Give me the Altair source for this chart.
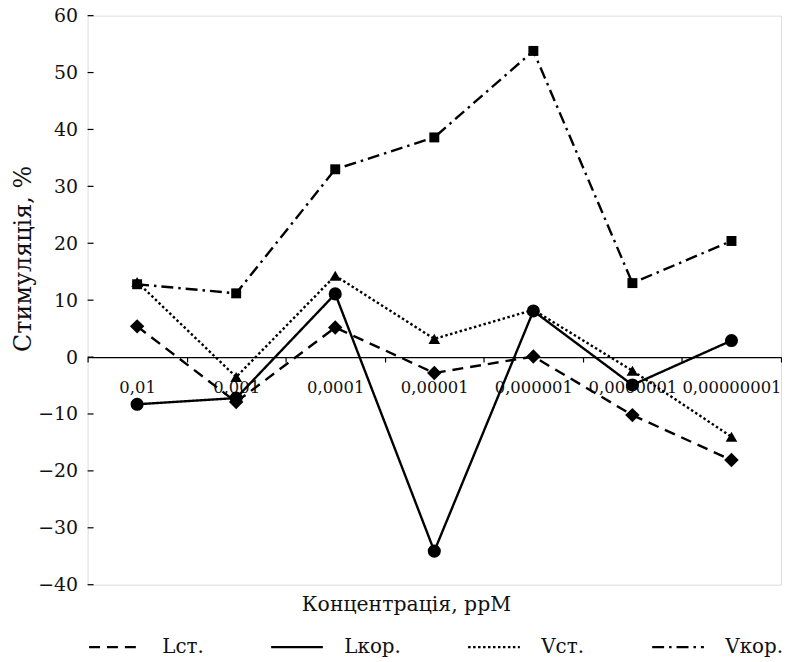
import altair as alt
import pandas as pd

conc = ["0,01", "0,001", "0,0001", "0,00001", "0,000001", "0,0000001", "0,00000001"]
series_names = ["Lст.", "Lкор.", "Vст.", "Vкор."]
l_st = [5.4, -7.9, 5.2, -2.8, 0.1, -10.2, -18.1]
l_kor = [-8.3, -7.2, 11.1, -34.1, 8.1, -4.9, 2.9]
v_st = [13.2, -3.5, 14.3, 3.2, 8.3, -2.4, -14.0]
v_kor = [12.8, 11.2, 33.0, 38.6, 53.8, 13.0, 20.4]
y_ticks = [-40, -30, -20, -10, 0, 10, 20, 30, 40, 50, 60]

rows = []
for name, vals in zip(series_names, [l_st, l_kor, v_st, v_kor]):
    for c, v in zip(conc, vals):
        rows.append({"conc": c, "series": name, "marker": name + " ", "value": v})
df = pd.DataFrame(rows)
marker_names = [s + " " for s in series_names]

FONT = "DejaVu Serif"
W, H = 697, 572

x_enc = alt.X(
    "conc:N",
    sort=conc,
    scale=alt.Scale(type="band", paddingInner=0, paddingOuter=0),
    axis=alt.Axis(
        title="Концентрація, ppM",
        offset=-H * 0.4,
        domain=True, domainColor="black", domainWidth=1.3,
        ticks=True, tickBand="extent", tickSize=5, tickColor="black", tickWidth=1.2,
        labelAngle=0, labelFont=FONT, labelFontSize=16.5, labelColor="#111",
        labelPadding=18,
        titleFont=FONT, titleFontSize=20.5, titleFontWeight="normal", titleColor="#111",
        titleX=320, titleY=H * 0.4 + 20, titleAnchor="middle", titleBaseline="middle",
    ),
)
y_scale = alt.Scale(domain=[-40, 60], nice=False, zero=False)
y_enc = alt.Y(
    "value:Q",
    scale=y_scale,
    axis=alt.Axis(
        title="Стимуляція, %",
        values=y_ticks,
        domain=False, ticks=False, grid=False,
        labelFont=FONT, labelFontSize=19, labelColor="#111", labelPadding=10,
        labelExpr="replace(datum.label, '-', '−')",
        titleFont=FONT, titleFontSize=24, titleFontWeight="normal", titleColor="#111",
        titleX=-64, titleY=244, titleAngle=-90, titleBaseline="middle", titleAnchor="middle",
    ),
)

lines = alt.Chart(df).mark_line(color="black", strokeWidth=2.4).encode(
    x=x_enc,
    y=y_enc,
    strokeDash=alt.StrokeDash(
        "series:N",
        sort=series_names,
        scale=alt.Scale(domain=series_names,
                        range=[[11, 7], [1, 0], [2.5, 2.5], [12, 5, 2.5, 5]]),
        legend=alt.Legend(
            title=None, orient="none", direction="horizontal",
            legendX=0, legendY=H + 35,
            symbolType="stroke", symbolSize=2704, symbolStrokeWidth=2.4,
            symbolStrokeColor="black",
            labelFont=FONT, labelFontSize=20, labelColor="#111", labelOffset=20,
            columnPadding=62,
        ),
    ),
)

points = alt.Chart(df).mark_point(filled=True, color="black", opacity=1).encode(
    x=alt.X("conc:N", sort=conc),
    y=alt.Y("value:Q"),
    shape=alt.Shape("marker:N", sort=marker_names,
                    scale=alt.Scale(domain=marker_names,
                                    range=["diamond", "circle", "triangle-up", "square"]),
                    legend=None),
    size=alt.Size("marker:N", sort=marker_names,
                  scale=alt.Scale(domain=marker_names, range=[210, 100, 170, 140]),
                  legend=None),
)

tick_df = pd.DataFrame({"t": y_ticks})
yticks = alt.Chart(tick_df).mark_rule(color="black", strokeWidth=1.2).encode(
    y=alt.Y("t:Q", scale=y_scale),
    x=alt.value(0),
    x2=alt.value(6),
)

chart = alt.layer(yticks, lines, points).properties(
    width=W, height=H,
    autosize=alt.AutoSizeParams(type="none"),
    padding={"left": 80, "top": 6, "right": 1, "bottom": 72},
).configure_view(
    stroke="#222", strokeWidth=1.5
).configure(background="white")

chart.save("out.html", embed_options={"renderer": "svg", "actions": False})
